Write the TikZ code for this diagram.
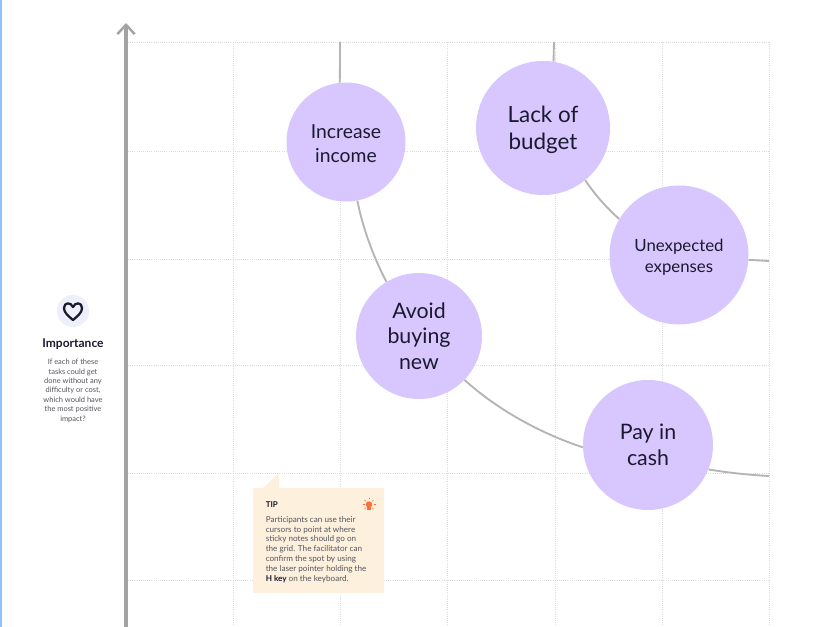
\documentclass[tikz,border=0pt]{standalone}
\usepackage{fontspec}
\setmainfont{Lato}
\usetikzlibrary{arrows.meta}
\definecolor{bub}{HTML}{D8C7FF}
\definecolor{gridc}{HTML}{DCDCDC}
\definecolor{axisc}{HTML}{A3A3A3}
\definecolor{curvec}{HTML}{B5B5B5}
\definecolor{tipc}{HTML}{FDF0DC}
\definecolor{inkc}{HTML}{1A1A2E}
\definecolor{bodyc}{HTML}{55555F}
\definecolor{orangec}{HTML}{F7713B}
\definecolor{stripc}{HTML}{8FC3FF}
\definecolor{haloc}{HTML}{EFEEFB}
\tikzset{
  bubble/.style={circle,fill=bub,inner sep=0pt,align=center,text=inkc},
  gridline/.style={draw=gridc,line width=0.6pt,densely dotted},
  curve/.style={draw=curvec,line width=1.4pt},
  tiptext/.style={anchor=north west,inner sep=0pt,align=left,text=bodyc,font=\fontsize{6.1}{7.4}\selectfont},
  sidetext/.style={inner sep=0pt,align=center,text=bodyc,font=\fontsize{5.6}{7.05}\selectfont},
  banner/.style={inner sep=0pt,text=inkc},
}
\begin{document}
\begin{tikzpicture}[x=0.75pt,y=-0.75pt]
\useasboundingbox (0,0) rectangle (826,627);
\fill[white] (0,0) rectangle (826,627);
\fill[stripc] (0,0) rectangle (2,627);
% grid
\foreach \y in {42,151,259,365,473,580} \draw[gridline] (128,\y) -- (769,\y);
\foreach \x in {233,340,447,555,662,769} \draw[gridline] (\x,42) -- (\x,627);
% axis
\coordinate (axisbottom) at (126,627);
\coordinate (axistop) at (126,23);
\draw[draw=axisc,line width=2.3pt,-{Straight Barb[length=7pt,width=13pt,line width=1.8pt]}] (axisbottom) -- (axistop);
% free ends of curves
\coordinate (incTop) at (340,42);
\coordinate (lackTop) at (554,42);
\coordinate (unexpRight) at (769,261);
\coordinate (payRight) at (769,476);
% bubbles
\node[bubble,minimum size=89.25pt,font=\fontsize{14.5}{18}\selectfont] (inc) at (346,142) {\rule{0pt}{12.2pt}Increase\\income};
\node[bubble,minimum size=100.5pt,font=\fontsize{16.8}{20}\selectfont] (lack) at (543,128) {\rule{0pt}{15.4pt}Lack of\\budget};
\node[bubble,minimum size=104.25pt,font=\fontsize{12.6}{16}\selectfont] (unexp) at (679,255) {\rule{0pt}{12.3pt}Unexpected\\expenses};
\node[bubble,minimum size=94.5pt,font=\fontsize{16}{19.3}\selectfont] (avoid) at (419,336) {Avoid\\buying\\new};
\node[bubble,minimum size=97.5pt,font=\fontsize{16}{19.5}\selectfont] (pay) at (648,445) {Pay in\\cash};
% curves
\draw[curve] (incTop) .. controls (340,60) and (340,70) .. (inc.96);
\draw[curve] (inc.-79) .. controls (363,230) and (375,260) .. (avoid.121);
\draw[curve] (avoid.-44) .. controls (500,412) and (545,435) .. (pay.182);
\draw[curve] (pay.-22) .. controls (730,473) and (750,475) .. (payRight);
\draw[curve] (lackTop) -- (lack.81);
\draw[curve] (lack.-51) .. controls (595,195) and (607,208) .. (unexp.149);
\draw[curve] (unexp.-4) -- (unexpRight);
% importance panel
\node[circle,fill=haloc,minimum size=24pt,inner sep=0pt] (halo) at (73,311) {};
\draw[inkc,line width=1.7pt,line join=round] (73,320) .. controls (67,315) and (64,312) .. (64,308)
  .. controls (64,302) and (71,302) .. (73,307) .. controls (75,302) and (82,302) .. (82,308)
  .. controls (82,312) and (79,315) .. (73,320) -- cycle;
\node[banner,font=\bfseries\fontsize{9}{10}\selectfont] (imp) at (73,344) {Importance};
\node[sidetext,anchor=north] (impbody) at (73,359) {If each of these\\tasks could get\\done without any\\difficulty or cost,\\which would have\\the most positive\\impact?};
% tip
\fill[tipc] (253,488) -- (263,488) -- (279,473) -- (279,488) -- (384,488) -- (384,593) -- (253,593) -- cycle;
\node[banner,anchor=west,font=\bfseries\fontsize{6}{7}\selectfont] (tiphead) at (265.5,505) {TIP};
\node[tiptext] (tipbody) at (265.5,516) {Participants can use their\\cursors to point at where\\sticky notes should go on\\the grid. The facilitator can\\confirm the spot by using\\the laser pointer holding the\\{\bfseries\color{inkc} H key} on the keyboard.};
% bulb
\fill[orangec] (369,504.5) circle[radius=3.2];
\fill[orangec] (367.4,507) rectangle (370.6,510.5);
\foreach \a in {0,45,135,180,225,315} \draw[orangec,line width=0.5pt] ({369+4.5*cos(\a)},{504.5+4.5*sin(\a)}) -- ({369+6.5*cos(\a)},{504.5+6.5*sin(\a)});
\draw[orangec,line width=0.5pt] (369,498) -- (369,499.5);
\end{tikzpicture}
\end{document}
